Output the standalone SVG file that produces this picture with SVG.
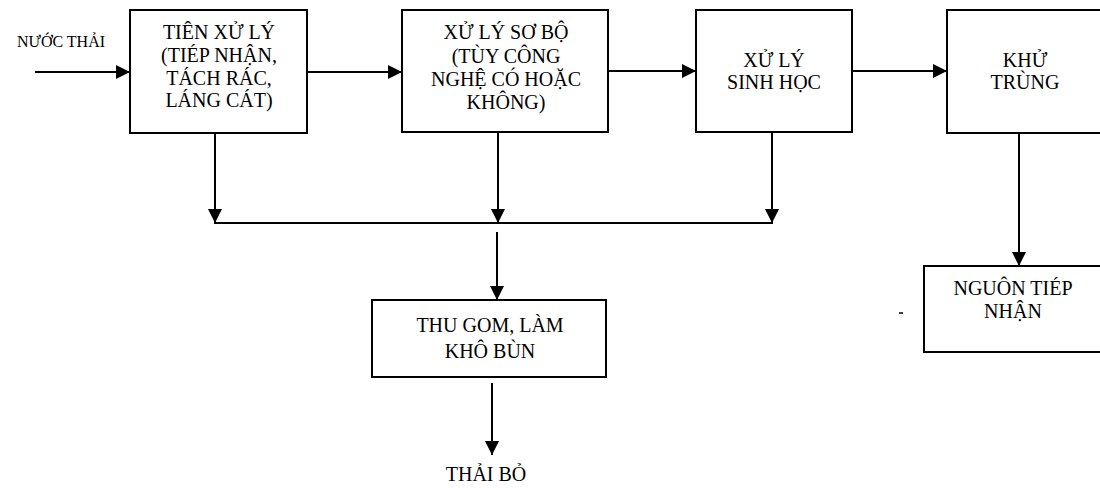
<svg xmlns="http://www.w3.org/2000/svg" width="1100" height="488" viewBox="0 0 1100 488">
<defs>
<marker id="ah" viewBox="0 0 14 14" refX="14" refY="7" markerWidth="14" markerHeight="14" markerUnits="userSpaceOnUse" orient="auto">
<path d="M0,0 L14,7 L0,14 Z" fill="#000"/>
</marker>
<style>
.box{fill:#fff;stroke:#000;stroke-width:2}
.t{font-family:"Liberation Serif","Times New Roman",serif;font-size:20px;fill:#000;text-anchor:middle}
.s{font-size:16px}
.c{fill:none;stroke:#000;stroke-width:2}
.a{marker-end:url(#ah)}
</style>
</defs>
<rect width="1100" height="488" fill="#fff"/>
<g id="connectors">
<line class="c a" x1="35" y1="72" x2="130" y2="72"/>
<line class="c a" x1="307" y1="72" x2="402" y2="72"/>
<line class="c a" x1="608" y1="71" x2="696" y2="71"/>
<line class="c a" x1="852" y1="71" x2="947" y2="71"/>
<line class="c a" x1="215" y1="133" x2="215" y2="223"/>
<line class="c a" x1="498" y1="132" x2="498" y2="223"/>
<line class="c a" x1="772" y1="132" x2="772" y2="223"/>
<line class="c" x1="214" y1="223" x2="773" y2="223"/>
<line class="c a" x1="497" y1="232" x2="497" y2="300"/>
<line class="c a" x1="492" y1="383" x2="492" y2="455"/>
<line class="c a" x1="1019" y1="133" x2="1019" y2="266"/>
<line x1="899" y1="313" x2="903" y2="313" stroke="#000" stroke-width="1.5"/>
</g>
<g id="nuoc-thai">
<text class="t s" x="61" y="47">NƯỚC THẢI</text>
</g>
<g id="tien-xu-ly">
<rect class="box" x="130" y="10" width="177" height="123"/>
<text class="t" x="219" y="39">TIÊN XỬ LÝ</text>
<text class="t" x="219" y="62">(TIÉP NHẬN,</text>
<text class="t" x="219" y="85">TÁCH RÁC,</text>
<text class="t" x="219" y="107">LÁNG CÁT)</text>
</g>
<g id="xu-ly-so-bo">
<rect class="box" x="402" y="10" width="206" height="122"/>
<text class="t" x="506" y="39">XỬ LÝ SƠ BỘ</text>
<text class="t" x="506" y="63">(TÙY CÔNG</text>
<text class="t" x="506" y="86">NGHỆ CÓ HOẶC</text>
<text class="t" x="506" y="109">KHÔNG)</text>
</g>
<g id="xu-ly-sinh-hoc">
<rect class="box" x="696" y="10" width="156" height="122"/>
<text class="t" x="774" y="67">XỬ LÝ</text>
<text class="t" x="774" y="89">SINH HỌC</text>
</g>
<g id="khu-trung">
<rect class="box" x="947" y="10" width="160" height="123"/>
<text class="t" x="1025" y="67">KHỬ</text>
<text class="t" x="1025" y="89">TRÙNG</text>
</g>
<g id="thu-gom">
<rect class="box" x="372" y="300" width="234" height="77"/>
<text class="t" x="490" y="332">THU GOM, LÀM</text>
<text class="t" x="490" y="358">KHÔ BÙN</text>
</g>
<g id="thai-bo">
<text class="t" x="486" y="481">THẢI BỎ</text>
</g>
<g id="nguon-tiep-nhan">
<rect class="box" x="924" y="266" width="185" height="86"/>
<text class="t" x="1013" y="295">NGUÔN TIÉP</text>
<text class="t" x="1013" y="318">NHẬN</text>
</g>
</svg>
